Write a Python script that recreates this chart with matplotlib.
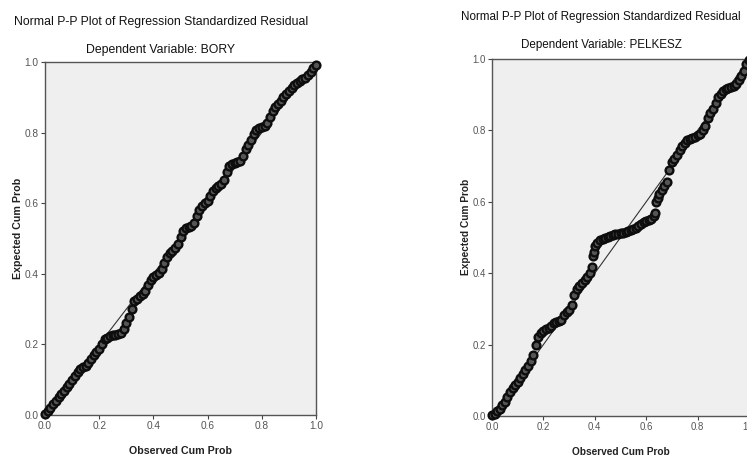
import matplotlib
matplotlib.use("Agg")
import matplotlib.pyplot as plt

# ---------------- data ----------------
bory_observed = [0.00, 0.01, 0.02, 0.03, 0.04, 0.05, 0.06, 0.07, 0.08, 0.09,
                 0.10, 0.11, 0.12, 0.13, 0.14, 0.15, 0.16, 0.17, 0.18, 0.19,
                 0.20, 0.21, 0.22, 0.23, 0.24, 0.25, 0.26, 0.27, 0.28, 0.29,
                 0.30, 0.31, 0.32, 0.33, 0.34, 0.35, 0.36, 0.37, 0.38, 0.39,
                 0.40, 0.41, 0.42, 0.43, 0.44, 0.45, 0.46, 0.47, 0.48, 0.49,
                 0.50, 0.51, 0.52, 0.53, 0.54, 0.55, 0.56, 0.57, 0.58, 0.59,
                 0.60, 0.61, 0.62, 0.63, 0.64, 0.65, 0.66, 0.67, 0.68, 0.69,
                 0.70, 0.71, 0.72, 0.73, 0.74, 0.75, 0.76, 0.77, 0.78, 0.79,
                 0.80, 0.81, 0.82, 0.83, 0.84, 0.85, 0.86, 0.87, 0.88, 0.89,
                 0.90, 0.91, 0.92, 0.93, 0.94, 0.95, 0.96, 0.97, 0.98, 0.99,
                 1.00]
bory_expected = [0.003, 0.012, 0.021, 0.030, 0.040, 0.050, 0.060, 0.069, 0.079, 0.089,
                 0.099, 0.110, 0.122, 0.131, 0.135, 0.139, 0.146, 0.160, 0.170, 0.178,
                 0.186, 0.200, 0.214, 0.219, 0.223, 0.226, 0.228, 0.229, 0.232, 0.245,
                 0.262, 0.279, 0.300, 0.322, 0.330, 0.337, 0.342, 0.352, 0.368, 0.382,
                 0.390, 0.396, 0.402, 0.415, 0.432, 0.448, 0.458, 0.465, 0.472, 0.485,
                 0.505, 0.522, 0.530, 0.533, 0.536, 0.545, 0.565, 0.582, 0.592, 0.600,
                 0.607, 0.620, 0.635, 0.643, 0.649, 0.655, 0.665, 0.688, 0.704, 0.711,
                 0.714, 0.716, 0.719, 0.735, 0.753, 0.765, 0.778, 0.795, 0.806, 0.812,
                 0.816, 0.820, 0.826, 0.845, 0.862, 0.872, 0.882, 0.890, 0.900, 0.910,
                 0.918, 0.925, 0.934, 0.941, 0.946, 0.951, 0.956, 0.962, 0.971, 0.982,
                 0.992]

pelkesz_observed = [0.00, 0.01, 0.02, 0.03, 0.04, 0.05, 0.06, 0.07, 0.08, 0.09,
                    0.10, 0.11, 0.12, 0.13, 0.14, 0.15, 0.16, 0.17, 0.18, 0.19,
                    0.20, 0.21, 0.22, 0.23, 0.24, 0.25, 0.26, 0.27, 0.28, 0.29,
                    0.30, 0.31, 0.32, 0.33, 0.34, 0.35, 0.36, 0.37, 0.38, 0.39,
                    0.392, 0.396, 0.40, 0.41, 0.42, 0.43, 0.44, 0.45, 0.46, 0.47,
                    0.48, 0.49, 0.50, 0.51, 0.52, 0.53, 0.54, 0.55, 0.56, 0.57,
                    0.58, 0.59, 0.60, 0.61, 0.62, 0.63, 0.635, 0.64, 0.645, 0.65,
                    0.66, 0.67, 0.68, 0.69, 0.70, 0.71, 0.72, 0.73, 0.74, 0.75,
                    0.76, 0.77, 0.78, 0.79, 0.80, 0.81, 0.82, 0.83, 0.84, 0.85,
                    0.86, 0.87, 0.88, 0.89, 0.90, 0.91, 0.92, 0.93, 0.94, 0.95,
                    0.96, 0.97, 0.98, 0.99, 1.00]
pelkesz_expected = [0.002, 0.007, 0.013, 0.020, 0.030, 0.040, 0.053, 0.068, 0.078, 0.087,
                    0.096, 0.106, 0.118, 0.130, 0.141, 0.154, 0.172, 0.200, 0.220, 0.232,
                    0.238, 0.243, 0.247, 0.253, 0.260, 0.264, 0.266, 0.268, 0.282, 0.292,
                    0.298, 0.310, 0.340, 0.357, 0.365, 0.372, 0.380, 0.390, 0.400, 0.418,
                    0.449, 0.458, 0.475, 0.485, 0.492, 0.496, 0.499, 0.502, 0.505, 0.507,
                    0.509, 0.511, 0.513, 0.514, 0.516, 0.518, 0.520, 0.523, 0.527, 0.533,
                    0.538, 0.543, 0.546, 0.549, 0.553, 0.560, 0.568, 0.600, 0.610, 0.622,
                    0.634, 0.645, 0.655, 0.690, 0.712, 0.721, 0.730, 0.745, 0.756, 0.765,
                    0.772, 0.776, 0.779, 0.782, 0.786, 0.791, 0.800, 0.813, 0.834, 0.850,
                    0.861, 0.876, 0.893, 0.903, 0.910, 0.915, 0.919, 0.922, 0.925, 0.931,
                    0.940, 0.953, 0.966, 0.985, 0.998]

tick_values = [0.0, 0.2, 0.4, 0.6, 0.8, 1.0]
tick_labels = ["0.0", "0.2", "0.4", "0.6", "0.8", "1.0"]
main_title = "Normal P-P Plot of Regression Standardized Residual"
subtitles = ["Dependent Variable: BORY", "Dependent Variable: PELKESZ"]
x_label = "Observed Cum Prob"
y_label = "Expected Cum Prob"

# ---------------- style ----------------
plt.rcParams["font.family"] = ["Liberation Sans", "DejaVu Sans"]

W, H = 747, 457
fig = plt.figure(figsize=(W / 100, H / 100), dpi=100)
fig.patch.set_facecolor("white")

def px_axes(x0, x1, ytop, ybot):
    return fig.add_axes([x0 / W, 1 - ybot / H, (x1 - x0) / W, (ybot - ytop) / H])

ax_left = px_axes(45, 316, 62, 415)
ax_right = px_axes(492, 749, 59, 416)

# (axes, x data, y data, subtitle, scale, title centre x, title y, subtitle y)
panels = [
    (ax_left, bory_observed, bory_expected, subtitles[0], 1.0, 161, 22, 50),
    (ax_right, pelkesz_observed, pelkesz_expected, subtitles[1], 0.95, 601, 17, 45),
]

for ax, xs, ys, sub, sc, tcx, ty, sy in panels:
    ax.set_facecolor("#efefef")
    ax.set_xlim(0, 1)
    ax.set_ylim(0, 1)
    ax.plot([0, 1], [0, 1], color="#333333", lw=0.8, zorder=2)
    ax.plot(xs, ys, linestyle="none", marker="o", markersize=5.6,
            markerfacecolor="#555555", markeredgecolor="#0d0d0d",
            markeredgewidth=1.7, zorder=3, clip_on=False)
    ax.set_xticks(tick_values)
    ax.set_xticklabels(tick_labels)
    ax.set_yticks(tick_values)
    ax.set_yticklabels(tick_labels)
    ax.tick_params(direction="out", length=3, width=0.8, colors="#444444",
                   labelsize=7.3 * sc, labelcolor="#555555", pad=1.5,
                   top=False, right=False)
    for s in ax.spines.values():
        s.set_color("#555555")
        s.set_linewidth(1.0)
    ax.set_xlabel(x_label, fontsize=7.7 * sc, fontweight="bold", color="#222222")
    ax.xaxis.set_label_coords(0.5, -0.102)
    ax.xaxis.label.set_va("center")
    ax.set_ylabel(y_label, fontsize=7.7 * sc, fontweight="bold", color="#222222")
    ax.yaxis.set_label_coords(-0.1, 0.53)
    ax.yaxis.label.set_va("center")
    fig.text(tcx / W, 1 - ty / H, main_title, fontsize=8.8 * sc, color="#111111",
             ha="center", va="center")
    fig.text(tcx / W, 1 - sy / H, sub, fontsize=8.8 * sc, color="#111111",
             ha="center", va="center")

fig.savefig("out.png", dpi=100, facecolor="white")
